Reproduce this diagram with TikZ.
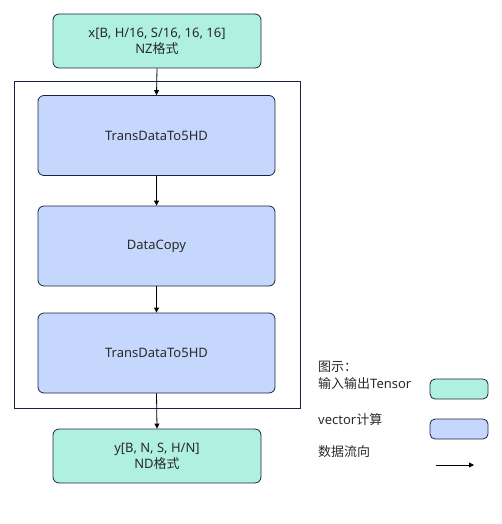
\documentclass[tikz,border=0pt]{standalone}
\usepackage{fontspec}
\setmainfont{Noto Sans}
\newfontfamily\cjk{Noto Sans CJK SC}
\usetikzlibrary{arrows.meta}
\definecolor{tensorfill}{HTML}{B0F0E1}
\definecolor{vecfill}{HTML}{C6D7FD}
\definecolor{edge}{HTML}{1A2440}
\definecolor{txt}{HTML}{2A2A2A}
\tikzset{
  tensor/.style={draw=edge, fill=tensorfill, rounded corners=6pt, line width=0.8pt, minimum width=208pt, minimum height=54pt, align=center, text=txt, font=\fontsize{13}{16}\selectfont, inner sep=0pt},
  vec/.style={draw=edge, fill=vecfill, rounded corners=6pt, line width=0.8pt, minimum width=237pt, minimum height=80pt, align=center, text=txt, font=\fontsize{13}{16}\selectfont, inner sep=0pt},
  flow/.style={-{Triangle[length=5pt,width=5pt]}, line width=0.8pt, draw=black},
  legtxt/.style={anchor=west, text=txt, font=\fontsize{13}{16}\selectfont, inner sep=0pt},
}
\begin{document}
\begin{tikzpicture}[x=1pt,y=-1pt]
\useasboundingbox (0,0) rectangle (501,524);
\draw[edge, line width=0.8pt] (14,81) rectangle (300,408);
\node[tensor] (x) at (157,41) {x[B, H/16, S/16, 16, 16]\\NZ{\cjk 格式}};
\node[vec] (t1) at (156.5,135.5) {TransDataTo5HD};
\node[vec] (dc) at (156.5,246) {DataCopy};
\node[vec] (t2) at (156.5,353) {TransDataTo5HD};
\node[tensor] (y) at (157,456) {y[B, N, S, H/N]\\ND{\cjk 格式}};
\draw[flow] (x.south) -- (t1.north);
\draw[flow] (t1.south) -- (dc.north);
\draw[flow] (dc.south) -- (t2.north);
\draw[flow] (t2.south) -- (y.north);
% legend
\node[legtxt] (l0) at (318,367) {\cjk 图示：};
\node[legtxt] (l1) at (318,384) {{\cjk 输入输出}Tensor};
\node[legtxt] (l2) at (318,420) {vector{\cjk 计算}};
\node[legtxt] (l3) at (318,452) {\cjk 数据流向};
\node[draw=edge, fill=tensorfill, rounded corners=5pt, line width=0.8pt, minimum width=58pt, minimum height=20pt, inner sep=0pt] (lb1) at (459,389) {};
\node[draw=edge, fill=vecfill, rounded corners=5pt, line width=0.8pt, minimum width=58pt, minimum height=20pt, inner sep=0pt] (lb2) at (459,429) {};
\coordinate (a0) at (436,465);
\coordinate (a1) at (474,465);
\draw[flow] (a0) -- (a1);
\end{tikzpicture}
\end{document}
